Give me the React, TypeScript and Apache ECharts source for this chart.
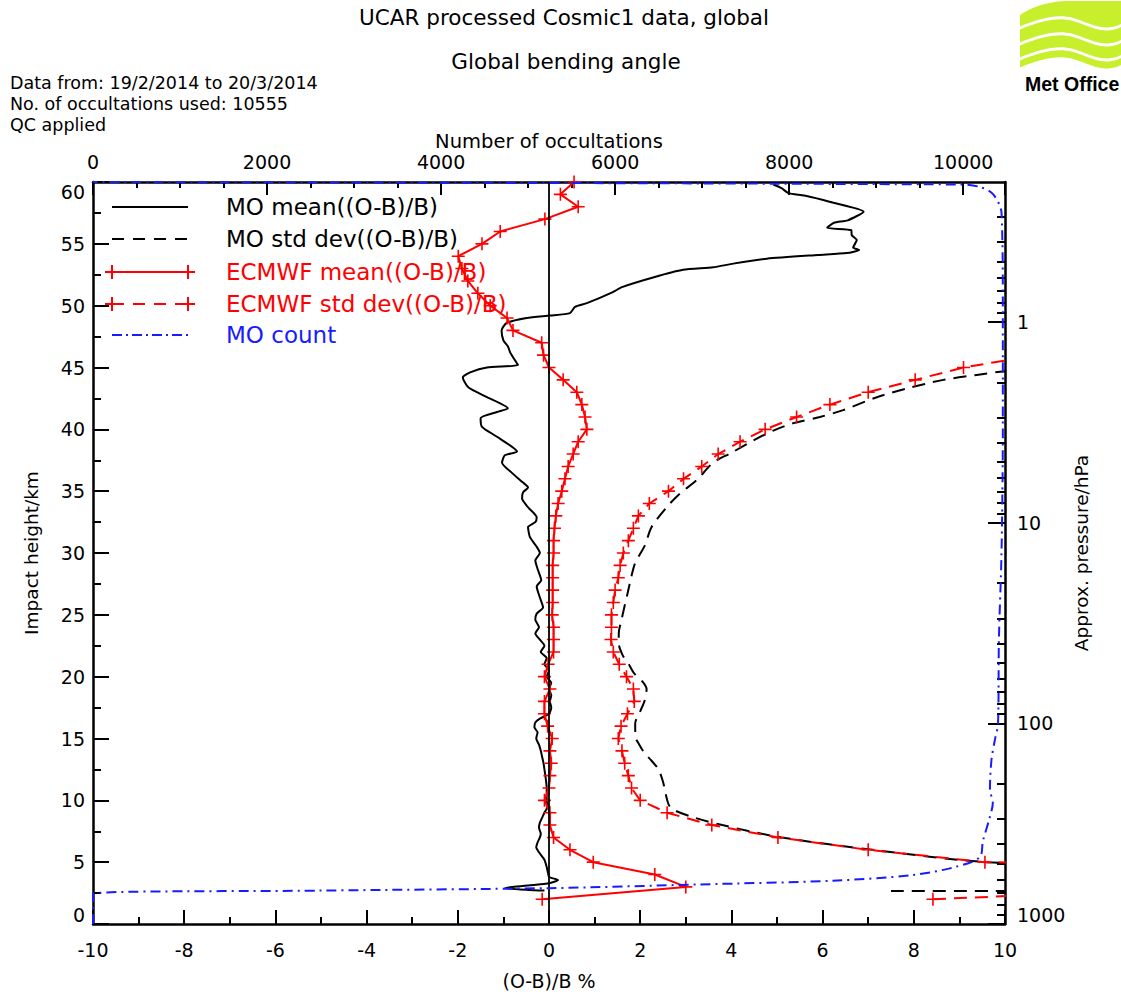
import { useEffect, useRef } from "react";
import * as echarts from "echarts";

// ---------------- data ----------------
// ECMWF mean((O-B)/B) [%] at impact heights [km]
const ecmwfMeanHeight = [
  2, 3, 4, 5, 6, 7, 8, 9, 10, 11, 12, 13, 14, 15, 16, 17, 18, 19, 20, 21, 22, 23, 24, 25, 26, 27, 28, 29, 30,
  31, 32, 33, 34, 35, 36, 37, 38, 39, 40, 41, 42, 43, 44, 45, 46, 47, 48, 49, 50, 51, 52, 53, 54, 55, 56, 57,
  58, 59, 60,
];
const ecmwfMeanValue = [
  -0.15, 3.0, 2.32, 0.97, 0.46, 0.1, 0.02, 0.02, -0.1, 0.0, 0.02, 0.05, 0.02, 0.07, -0.03, -0.1, -0.1, 0.02,
  -0.1, -0.02, 0.1, 0.1, 0.1, 0.07, 0.08, 0.08, 0.08, 0.08, 0.1, 0.1, 0.12, 0.15, 0.2, 0.28, 0.35, 0.42, 0.53,
  0.64, 0.83, 0.79, 0.72, 0.61, 0.31, 0.0, -0.12, -0.16, -0.79, -0.92, -1.29, -1.56, -1.78, -1.91, -1.99,
  -1.47, -1.07, -0.09, 0.64, 0.25, 0.55,
];

// ECMWF std dev((O-B)/B) [%]
const ecmwfStdHeight = [
  2, 3, 4, 5, 6, 7, 8, 9, 10, 11, 12, 13, 14, 15, 16, 17, 18, 19, 20, 21, 22, 23, 24, 25, 26, 27, 28, 29, 30,
  31, 32, 33, 34, 35, 36, 37, 38, 39, 40, 41, 42, 43, 44, 45, 46,
];
const ecmwfStdValue = [
  8.42, 14.7, 30, 9.56, 7.0, 5.02, 3.57, 2.59, 2.0, 1.81, 1.74, 1.66, 1.6, 1.52, 1.58, 1.72, 1.87, 1.85, 1.7,
  1.54, 1.41, 1.36, 1.37, 1.37, 1.41, 1.45, 1.52, 1.56, 1.63, 1.74, 1.85, 1.96, 2.2, 2.62, 2.95, 3.35, 3.71,
  4.19, 4.74, 5.43, 6.16, 7.0, 8.03, 9.09, 10.7,
];

// MO mean((O-B)/B) [%]
const moMeanHeight = [
  2.7, 2.75, 2.9, 3.0, 3.3, 3.56, 3.8, 4.1, 4.6, 5.2, 5.8, 6.2, 6.6, 7.0, 7.3, 7.8, 8.2, 8.6, 9.0, 9.5, 10.0,
  11.0, 12.0, 12.5, 13.0, 13.5, 14.0, 14.5, 15.0, 15.5, 15.9, 16.3, 16.6, 17.0, 17.5, 18.0, 18.5, 19.0, 19.5,
  20.0, 20.5, 21.0, 21.5, 22.0, 22.5, 23.0, 23.5, 24.0, 24.6, 25.1, 25.6, 26.4, 27.3, 27.8, 28.6, 29.4, 30.0,
  30.5, 31.3, 32.1, 32.5, 32.9, 33.7, 34.4, 34.9, 35.3, 35.7, 36.5, 37.3, 37.9, 38.2, 39.4, 40.2, 40.9, 41.4,
  41.7, 42.6, 43.4, 44.2, 44.6, 45.0, 45.2, 45.6, 46.2, 46.7, 47.2, 48.0, 48.6, 49.0, 49.2, 49.4, 49.9, 50.2,
  51.1, 51.5, 52.3, 52.9, 53.1, 53.4, 53.8, 54.1, 54.25, 54.5, 54.7, 55.3, 55.7, 56.1, 56.3, 56.7, 56.9, 57.6,
  58.4, 58.9, 59.1, 59.5, 59.8,
];
const moMeanValue = [
  -0.1, -0.45, -0.97, -0.8, 0.0, 0.2, 0.0, -0.02, -0.05, -0.1, -0.22, -0.28, -0.25, -0.2, -0.18, -0.22, -0.2,
  -0.15, -0.1, -0.03, -0.05, -0.05, -0.08, -0.1, -0.12, -0.15, -0.18, -0.22, -0.28, -0.25, -0.32, -0.3, -0.2,
  0.0, 0.05, 0.02, 0.05, 0.0, 0.05, -0.05, 0.0, -0.1, -0.05, -0.18, -0.1, -0.2, -0.3, -0.22, -0.3, -0.27,
  -0.13, -0.2, -0.27, -0.17, -0.24, -0.3, -0.2, -0.27, -0.42, -0.46, -0.3, -0.27, -0.46, -0.59, -0.57, -0.46,
  -0.57, -0.82, -1.03, -0.97, -0.7, -1.14, -1.47, -1.5, -1.14, -0.9, -1.36, -1.77, -1.89, -1.73, -1.36, -0.68,
  -0.75, -0.85, -0.9, -1.0, -1.04, -0.93, -0.49, 0.02, 0.46, 0.57, 0.83, 1.4, 1.6, 2.3, 2.94, 3.6, 4.04, 4.78,
  5.9, 6.53, 6.8, 6.67, 6.75, 6.64, 6.63, 6.1, 6.25, 6.55, 6.9, 6.15, 5.6, 5.25, 5.1, 4.92,
];

// MO std dev((O-B)/B) [%]
const moStdHeight = [
  2.67, 3.0, 4.5, 5.0, 6.0, 7.0, 8.0, 8.7, 9.3, 9.7, 10.5, 11.5, 12.5, 13.2, 13.8, 14.5, 15.1, 16.2, 17.2,
  18.1, 19.0, 19.6, 20.3, 21.0, 21.7, 22.7, 23.5, 24.6, 25.9, 27.0, 28.0, 29.2, 30.6, 32.1, 33.7, 34.8, 35.9,
  37.3, 38.1, 39.1, 39.9, 40.5, 41.0, 41.55, 42.6, 43.3, 44.0, 44.4, 44.65, 45.2,
];
const moStdValue = [
  7.5, 40, 14, 9.6, 7.1, 5.1, 3.8, 3.1, 2.7, 2.62, 2.56, 2.5, 2.4, 2.25, 2.1, 1.98, 1.9, 1.89, 2.0, 2.1, 2.14,
  2.05, 1.86, 1.75, 1.62, 1.53, 1.53, 1.59, 1.67, 1.74, 1.8, 1.89, 2.1, 2.25, 2.58, 2.87, 3.24, 3.6, 4.0,
  4.48, 4.92, 5.36, 5.94, 6.45, 7.19, 7.84, 8.65, 9.38, 9.89, 11.5,
];

// MO count (number of occultations)
const moCountHeight = [
  0, 2.45, 2.7, 2.9, 3.2, 3.5, 3.96, 4.6, 5.4, 6.7, 8.5, 9.8, 10.9, 13.3, 14.9, 16.2, 23, 30, 40, 50, 57.5,
  59.0, 59.6, 59.8, 60,
];
const moCountValue = [
  0, 0, 2600, 5240, 6970, 8500, 9420, 9900, 10190, 10226, 10300, 10340, 10307, 10325, 10364, 10400, 10410,
  10440, 10455, 10455, 10440, 10345, 10190, 9960, 0,
];

// Approximate pressure axis labels / ticks [hPa]
const pressureMajor = [1000, 100, 10, 1];
const pressureMinor = [
  900, 800, 700, 600, 500, 400, 300, 200, 90, 80, 70, 60, 50, 40, 30, 20, 9, 8, 7, 6, 5, 4, 3, 2, 0.9, 0.8, 0.7,
  0.6, 0.5, 0.4, 0.3,
];
const KM_PER_DECADE = 16.23;

// ---------------- helpers ----------------
const FONT = '"DejaVu Sans", sans-serif';
const RED = "#ff0000";
const BLUE = "#1a1aff";
const PLUS = "path://M5,0L5,10M0,5L10,5";

const heightOfPressure = (p: number) => KM_PER_DECADE * Math.log10(1000 / p);
const pairs = (xs: number[], hs: number[]) => xs.map((x, i) => [x, hs[i]]);

// Met Office logo: four wavy lime ribbons
const waveFwd = (y: number) =>
  `C 15 ${y - 2} 30 ${y - 7} 45 ${y - 6} C 60 ${y - 5} 72 ${y + 5} 86 ${y + 5} C 95 ${y + 5} 100 ${y + 2} 102 ${y + 1}`;
const waveRev = (y: number) =>
  `C 100 ${y + 2} 95 ${y + 5} 86 ${y + 5} C 72 ${y + 5} 60 ${y - 5} 45 ${y - 6} C 30 ${y - 7} 15 ${y - 2} 0 ${y + 4}`;
const ribbon = (yTop: number, yBot: number) =>
  `M 0 ${yTop + 4} ${waveFwd(yTop)} L 102 ${yBot + 1} ${waveRev(yBot)} Z`;
const logoPath = [
  `M 0 15 C 10 8 25 2 45 1 L 102 1 L 102 ${22.5 + 1} ${waveRev(22.5)} Z`,
  ribbon(25.5, 38.5),
  ribbon(41.5, 53.5),
  ribbon(56.5, 63.5),
].join(" ");
echarts.graphic.registerShape("moLogo", echarts.graphic.extendPath(logoPath, {}));

const txt = (t: string, x: number, y: number, size: number, extra: any = {}) => ({
  type: "text",
  x,
  y,
  silent: true,
  style: {
    text: t,
    fill: extra.fill || "#000",
    fontSize: size,
    fontFamily: extra.family || FONT,
    fontWeight: extra.weight || "normal",
    align: extra.align || "left",
    verticalAlign: "middle",
  },
});
const seg = (x1: number, y1: number, x2: number, y2: number, stroke: string, dash?: number[]) => ({
  type: "line",
  silent: true,
  shape: { x1, y1, x2, y2 },
  style: { stroke, lineWidth: 2, lineDash: dash || null },
});
const plusMark = (x: number, y: number) => [seg(x - 7, y, x + 7, y, RED), seg(x, y - 7, x, y + 7, RED)];

export default function App() {
  const ref = useRef<HTMLDivElement>(null);

  useEffect(() => {
    if (!ref.current) return;
    const chart = echarts.init(ref.current, null, { renderer: "svg" });

    const axisLabelStyle = { color: "#000", fontSize: 19, fontFamily: FONT };
    const nameStyle = { color: "#000", fontSize: 18.5, fontFamily: FONT };
    const lineBlack = { color: "#000", width: 2.5 };
    const tickBlack = { color: "#000", width: 2 };

    const majorH = pressureMajor.map(heightOfPressure);
    const minorH = pressureMinor.map(heightOfPressure);

    const legendX1 = 112;
    const legendX2 = 188;
    const legendTextX = 226;
    const rows = [207, 239, 272, 304, 335];

    const graphic: any[] = [
      txt("UCAR processed Cosmic1 data, global", 564, 17.5, 21.5, { align: "center" }),
      txt("Global bending angle", 566, 61, 21.5, { align: "center" }),
      txt("Data from: 19/2/2014 to 20/3/2014", 10, 83, 17.5),
      txt("No. of occultations used: 10555", 10, 104, 17.5),
      txt("QC applied", 10, 125, 17.5),
      { type: "moLogo", x: 1020, y: 0, silent: true, style: { fill: "#c8ef2c" } },
      txt("Met Office", 1025, 84, 19.5, { weight: "bold", family: '"Liberation Sans", Arial, sans-serif' }),
      // legend
      seg(legendX1, rows[0], legendX2, rows[0], "#000"),
      seg(legendX1, rows[1], legendX2, rows[1], "#000", [12, 9]),
      seg(legendX1, rows[2], legendX2, rows[2], RED),
      ...plusMark(legendX1, rows[2]),
      ...plusMark(legendX2, rows[2]),
      seg(legendX1, rows[3], legendX2, rows[3], RED, [12, 9]),
      ...plusMark(legendX1, rows[3]),
      ...plusMark(legendX2, rows[3]),
      seg(legendX1, rows[4], legendX2, rows[4], BLUE, [10, 4, 2, 4]),
      txt("MO mean((O-B)/B)", legendTextX, rows[0], 23),
      txt("MO std dev((O-B)/B)", legendTextX, rows[1], 23),
      txt("ECMWF mean((O-B)/B)", legendTextX, rows[2], 23, { fill: RED }),
      txt("ECMWF std dev((O-B)/B)", legendTextX, rows[3], 23, { fill: RED }),
      txt("MO count", legendTextX, rows[4], 23, { fill: BLUE }),
    ];

    chart.setOption({
      animation: false,
      backgroundColor: "#fff",
      grid: { left: 93, right: 116, top: 182, bottom: 70, outerBoundsMode: "none" },
      xAxis: [
        {
          type: "value",
          position: "bottom",
          min: -10,
          max: 10,
          interval: 2,
          axisLine: { show: true, onZero: false, lineStyle: lineBlack },
          axisTick: { show: true, inside: true, length: 14, lineStyle: tickBlack },
          minorTick: { show: true, splitNumber: 2, length: 7, lineStyle: tickBlack },
          splitLine: { show: false },
          minorSplitLine: { show: false },
          axisLabel: { ...axisLabelStyle, margin: 16 },
          name: "(O-B)/B %",
          nameLocation: "middle",
          nameGap: 47,
          nameMoveOverlap: false,
          nameTextStyle: { ...nameStyle, fontSize: 19 },
        },
        {
          type: "value",
          position: "top",
          min: 0,
          max: 10480,
          interval: 2000,
          axisLine: { show: true, onZero: false, lineStyle: lineBlack },
          axisTick: { show: true, inside: true, length: 13, lineStyle: tickBlack },
          minorTick: { show: true, splitNumber: 4, length: 6, lineStyle: tickBlack },
          splitLine: { show: false },
          minorSplitLine: { show: false },
          axisLabel: {
            ...axisLabelStyle,
            margin: 11,
            showMaxLabel: false,
            formatter: (v: number) => String(Math.round(v)),
          },
          name: "Number of occultations",
          nameLocation: "middle",
          nameGap: 31,
          nameMoveOverlap: false,
          nameTextStyle: { ...nameStyle, fontSize: 19.5 },
        },
      ],
      yAxis: [
        {
          type: "value",
          position: "left",
          min: 0,
          max: 60,
          interval: 5,
          axisLine: { show: true, onZero: false, lineStyle: lineBlack },
          axisTick: { show: true, inside: true, length: 16, lineStyle: tickBlack },
          minorTick: { show: true, splitNumber: 2, length: 8, lineStyle: tickBlack },
          splitLine: { show: false },
          minorSplitLine: { show: false },
          axisLabel: {
            ...axisLabelStyle,
            margin: 8,
            verticalAlignMinLabel: "bottom",
            verticalAlignMaxLabel: "top",
          },
          name: "Impact height/km",
          nameLocation: "middle",
          nameRotate: 90,
          nameGap: 52,
          nameMoveOverlap: false,
          nameTextStyle: nameStyle,
        },
        {
          type: "value",
          position: "right",
          min: 0,
          max: 60,
          axisLine: { show: true, onZero: false, lineStyle: lineBlack },
          axisTick: { show: true, inside: true, length: 17, lineStyle: tickBlack, customValues: majorH },
          splitLine: { show: false },
          axisLabel: {
            ...axisLabelStyle,
            margin: 12,
            customValues: majorH,
            verticalAlignMinLabel: "bottom",
            formatter: (v: number) => String(Math.round(1000 * Math.pow(10, -v / KM_PER_DECADE))),
          },
          name: "Approx. pressure/hPa",
          nameLocation: "middle",
          nameRotate: 90,
          nameGap: 67,
          nameMoveOverlap: false,
          nameTextStyle: nameStyle,
        },
        {
          type: "value",
          position: "right",
          min: 0,
          max: 60,
          axisLine: { show: false, onZero: false },
          axisTick: { show: true, inside: true, length: 8, lineStyle: tickBlack, customValues: minorH },
          splitLine: { show: false },
          axisLabel: { show: false },
        },
      ],
      graphic,
      series: [
        {
          name: "MO mean((O-B)/B)",
          type: "line",
          xAxisIndex: 0,
          yAxisIndex: 0,
          data: pairs(moMeanValue, moMeanHeight),
          showSymbol: false,
          smooth: 0.2,
          lineStyle: { color: "#000", width: 2 },
          z: 3,
          markLine: {
            silent: true,
            symbol: ["none", "none"],
            label: { show: false },
            lineStyle: { color: "#000", width: 1.8, type: "solid" },
            data: [{ xAxis: 0 }],
          },
        },
        {
          name: "MO std dev((O-B)/B)",
          type: "line",
          xAxisIndex: 0,
          yAxisIndex: 0,
          data: pairs(moStdValue, moStdHeight),
          showSymbol: false,
          smooth: 0.3,
          lineStyle: { color: "#000", width: 2, type: [13, 8] },
          z: 3,
        },
        {
          name: "ECMWF mean((O-B)/B)",
          type: "line",
          xAxisIndex: 0,
          yAxisIndex: 0,
          data: pairs(ecmwfMeanValue, ecmwfMeanHeight),
          symbol: PLUS,
          symbolSize: 13,
          showSymbol: true,
          itemStyle: { color: RED, borderColor: RED, borderWidth: 1.6 },
          lineStyle: { color: RED, width: 2 },
          z: 4,
        },
        {
          name: "ECMWF std dev((O-B)/B)",
          type: "line",
          xAxisIndex: 0,
          yAxisIndex: 0,
          data: pairs(ecmwfStdValue, ecmwfStdHeight),
          symbol: PLUS,
          symbolSize: 13,
          showSymbol: true,
          itemStyle: { color: RED, borderColor: RED, borderWidth: 1.6 },
          lineStyle: { color: RED, width: 2, type: [13, 8] },
          z: 4,
        },
        {
          name: "MO count",
          type: "line",
          xAxisIndex: 1,
          yAxisIndex: 0,
          data: pairs(moCountValue, moCountHeight),
          showSymbol: false,
          smooth: 0.3,
          lineStyle: { color: BLUE, width: 2, type: [10, 5, 2, 5] },
          z: 5,
        },
      ],
    });

    return () => chart.dispose();
  }, []);

  return (
    <div
      ref={ref}
      style={{ position: "absolute", left: 0, top: 0, width: 1121, height: 994, background: "#fff" }}
    />
  );
}
